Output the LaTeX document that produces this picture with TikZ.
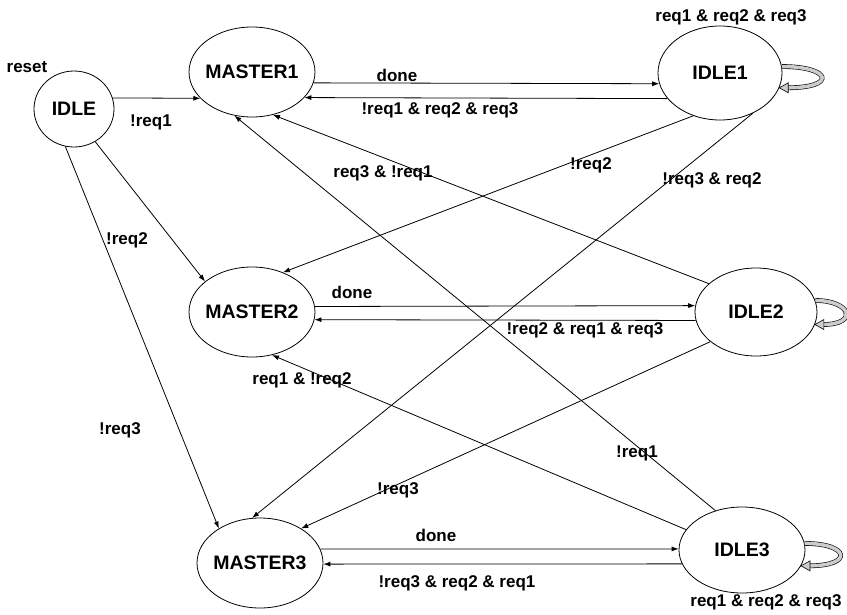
\documentclass[tikz,border=0pt]{standalone}
\usepackage{fontspec}
\setmainfont{Liberation Sans}
\usetikzlibrary{shapes.geometric,arrows.meta}
\tikzset{
  state/.style={draw, ellipse, line width=0.8pt, inner sep=0pt, font=\bfseries\fontsize{19.5}{22}\selectfont},
  lbl/.style={font=\bfseries\fontsize{17}{20}\selectfont, inner sep=0pt},
  arr/.style={-{Latex[length=7pt,width=5pt]}, line width=0.8pt},
  loopline/.style={draw=black, line width=0.6pt, double=gray!40, double distance=3.5pt},
  loophead/.style={fill=gray!40, draw=black, line width=0.6pt},
}
\newcommand\selfloop[4]{%
  \draw[loopline] (#1.#2) .. controls +(#4,0) and +(#4,0) .. ([xshift=8pt]#1.#3);
  \filldraw[loophead] (#1.#3) -- ++(9,5) -- ++(0,-10) -- cycle;
}
\begin{document}
\begin{tikzpicture}[x=1pt,y=-1pt]
\useasboundingbox (0,0) rectangle (847,614);
% states
\node[state, minimum width=80pt, minimum height=76pt] (ID) at (74,109) {\makebox[0pt]{IDLE}};
\node[state, minimum width=126pt, minimum height=90pt] (M1) at (252,72) {\makebox[0pt]{MASTER1}};
\node[state, minimum width=124pt, minimum height=94pt] (I1) at (720,73) {\makebox[0pt]{IDLE1}};
\node[state, minimum width=126pt, minimum height=90pt] (M2) at (252,312) {\makebox[0pt]{MASTER2}};
\node[state, minimum width=122pt, minimum height=88pt] (I2) at (756,312) {\makebox[0pt]{IDLE2}};
\node[state, minimum width=126pt, minimum height=90pt] (M3) at (260,563) {\makebox[0pt]{MASTER3}};
\node[state, minimum width=126pt, minimum height=86pt] (I3) at (742,550) {\makebox[0pt]{IDLE3}};
% transitions
\draw[arr] (ID.16) -- (M1.-153);
\draw[arr] (ID.-57) -- (M2.147);
\draw[arr] (ID.-103) -- (M3.140);
\draw[arr] (M1.-10) -- (I1.-170);
\draw[arr] (I1.-154) -- (M1.-26);
\draw[arr] (I1.-122) -- (M2.52);
\draw[arr] (I1.-51) -- (M3.100);
\draw[arr] (I2.149) -- (M1.-64);
\draw[arr] (I3.124) -- (M1.-112);
\draw[arr] (M2.5) -- (I2.174);
\draw[arr] (I2.-172) -- (M2.-7);
\draw[arr] (I3.160) -- (M2.-65);
\draw[arr] (I2.-147) -- (M3.40);
\draw[arr] (M3.13) -- (I3.179);
\draw[arr] (I3.-167) -- (M3.-1);
% self loops
\selfloop{I1}{6}{-14}{50}
\selfloop{I2}{11}{-12}{36}
\selfloop{I3}{6}{-15}{45}
% labels
\node[lbl] (Lreset) at (27,67) {reset};
\node[lbl] (La) at (151,122) {!req1};
\node[lbl] (Lb) at (127,240) {!req2};
\node[lbl] (Lc) at (120,430) {!req3};
\node[lbl] (Ld) at (397,75) {done};
\node[lbl] (Le) at (440,110) {!req1 \& req2 \& req3};
\node[lbl] (Lf) at (731,17) {req1 \& req2 \& req3};
\node[lbl] (Lg) at (383,173) {req3 \& !req1};
\node[lbl] (Lh) at (591,165) {!req2};
\node[lbl] (Li) at (712,180) {!req3 \& req2};
\node[lbl] (Lj) at (352,292) {done};
\node[lbl] (Lk) at (585,330) {!req2 \& req1 \& req3};
\node[lbl] (Ll) at (302,380) {req1 \& !req2};
\node[lbl] (Lm) at (637,453) {!req1};
\node[lbl] (Ln) at (398,490) {!req3};
\node[lbl] (Lo) at (436,535) {done};
\node[lbl] (Lp) at (457,583) {!req3 \& req2 \& req1};
\node[lbl] (Lq) at (766,602) {req1 \& req2 \& req3};
\end{tikzpicture}
\end{document}
